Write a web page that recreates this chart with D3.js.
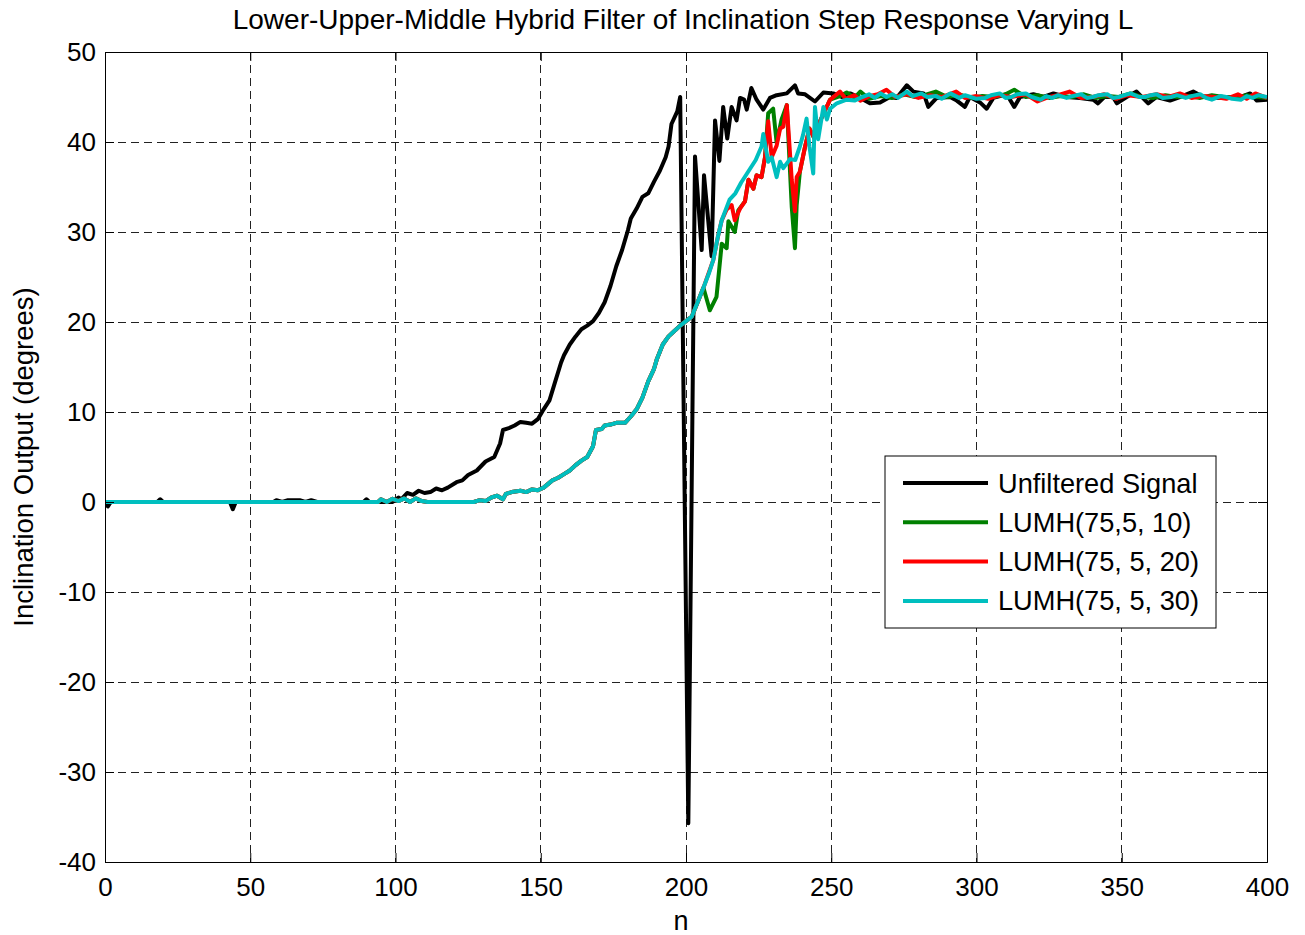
<!DOCTYPE html>
<html lang="en">
<head>
  <meta charset="UTF-8">
  <script src="https://d3js.org/d3.v7.min.js"></script>
  <title>LUMH step response</title>
  <style>
  body {
    margin:0;
    background-color:#fff;
    font-family: "Liberation Sans", Arial, sans-serif;
  }
  .tick text {
    font-family: "Liberation Sans", Arial, sans-serif;
    font-size: 26px;
    fill:#000;
  }
  .grid line {
    stroke:#222;
    stroke-width:1px;
    stroke-dasharray: 8,5;
    shape-rendering: crispEdges;
  }
  .series {
    fill:none;
    stroke-width:4px;
    stroke-linejoin:round;
  }
  </style>
</head>
<body>
<svg id="chart" width="1305" height="935"></svg>
<script>
// n ticks / value ticks
const xTicks = [0, 50, 100, 150, 200, 250, 300, 350, 400];
const yTicks = [-40, -30, -20, -10, 0, 10, 20, 30, 40, 50];

const seriesNames = ["Unfiltered Signal", "LUMH(75,5, 10)", "LUMH(75, 5, 20)", "LUMH(75, 5, 30)"];
const seriesColors = ["#000000", "#008000", "#ff0000", "#00bfbf"];

// unfiltered signal [n, degrees]
const unfiltered = [
  [0,0],[1,-0.5],[2,0],[18,0],[19,0.3],[20,0],[43,0],[44,-0.8],[45,0],[58,0],[59,0.2],[61,0],[63,0.2],[67,0.2],
  [69,0],[71,0.2],[73,0],[89,0],[90,0.3],[91,0],[99,0],[101,0.5],[102,0.3],[104,1.0],[106,0.8],[108,1.25],
  [110,1.0],[112,1.1],[114,1.5],[116,1.3],[118,1.6],[121,2.2],[123,2.4],[125,3.0],[128,3.5],[131,4.5],[134,5.0],
  [136,6.5],[137,8.0],[139,8.2],[141,8.5],[143,8.9],[145,8.8],[147,8.7],[149,9.2],[151,10.3],[153,11.3],
  [155,13.4],[157,15.5],[158,16.3],[160,17.5],[162,18.4],[164,19.2],[166,19.6],[168,20.1],[170,21.0],
  [172,22.2],[174,24.0],[176,26.2],[178,28.0],[180,30.2],[181,31.5],[183,32.6],[185,33.9],[187,34.3],
  [189,35.6],[191,36.8],[193,38.3],[194,39.5],[195,42.0],[197,43.4],[198,45.0],[200.8,-35.7],[203.1,38.4],
  [205.4,28.0],[206.2,36.3],[208.8,27.3],[210,42.4],[211.5,37.9],[212.8,43.9],[214.2,40.4],[215.7,43.9],
  [217.4,42.4],[218.6,44.9],[220,44.7],[220.9,43.6],[222.5,46.0],[224.3,44.7],[226.6,43.6],[228.9,44.9],
  [231.2,45.2],[234.7,45.4],[237.5,46.3],[238.6,45.4],[241,45.3],[244.4,44.5],[247.3,45.5],[250.7,45.4],
  [253.6,45],[256.5,45.4],[260,44.9],[263.3,44.3],[266.8,44.4],[270.2,45],[272.5,44.9],[276,46.3],[278.3,45.6],
  [281.8,45.4],[283.4,43.9],[286.3,44.9],[290.9,45],[293.2,44.6],[296,43.9],[297.7,45],[301.2,44.4],[303.5,43.7],
  [305.8,44.9],[310.4,45.3],[313,43.9],[315,45],[319.6,45.3],[323,45],[326.5,45.4],[331,45],[335.6,44.9],
  [340.2,44.7],[341.8,44.3],[344,45],[347,45],[348.3,44.3],[351.7,45],[355.1,45.6],[359.1,44.3],[362,45],
  [366.6,44.6],[370,45],[374.6,45.6],[378.1,45],[382.7,44.9],[386.2,45],[390,44.9],[394.2,45.4],[396.5,44.6],[400,44.7]
];

// filtered outputs, identical until the response splits
const filteredStart = [
  [0,0],[94,0],[95,0.3],[97,0],[99,0.35],[101,0.1],[103,0.4],[105,0],[107,0.4],[109,0.1],[111,0],[127,0],
  [129,0.2],[131,0.1],[133,0.5],[135,0.7],[137,0.3],[138,0.9],[140,1.1],[143,1.25],[145,1.1],[147,1.4],
  [149,1.3],[151,1.6],[154,2.4],[156,2.7],[158,3.1],[160,3.5],[162,4.1],[164,4.6],[166,5.0],[168,6.2],
  [169,8.0],[171,8.1],[172,8.5],[174,8.6],[176,8.8],[179,8.8],[181,9.5],[183,10.3],[185,11.6],[187,13.4],
  [189,14.8],[190,15.9],[192,17.5],[194,18.4],[196,19.0],[198,19.6],[200,20.1],[202,20.6],[204,22.2],[206,23.8]
];

const lumh10Tail = [
  [208.2,21.3],[210.5,22.8],[212.3,28.7],[214,28.2],[214.6,31.2],[216.8,30.0],[218,32.4],[220.3,33.4],
  [221.5,35.8],[223.2,34.8],[224.3,36.3],[226,36.1],[227.2,38.3],[228.3,43.2],[230,43.7],[231.2,39.9],
  [232.9,42.5],[234.7,44.1],[236.4,32.8],[237.5,28.2],[238.1,33.0],[239.2,36.7],[241,39.5],[242.5,41.5],
  [244,40.5],[246.4,42.5],[249.6,44.7],[253,45.1],[255.3,45.5],[258,44.9],[260,45.6],[263,44.8],[267,45.1],
  [271,44.9],[275,45.3],[279,45.0],[282,45.2],[286,45.6],[290,45.0],[294,45.3],[298,44.9],[302,45.1],
  [306,45.0],[310,45.3],[313,45.8],[317,45.0],[321,45.2],[325,44.9],[329,45.1],[333,45.0],[337,45.3],
  [341,44.9],[345,45.1],[349,45.0],[353,45.4],[357,45.0],[361,44.9],[365,45.2],[369,45.0],[373,45.1],
  [377,44.9],[381,45.2],[385,45.0],[389,44.9],[393,45.2],[397,45.0],[400,44.9]
];

const lumh20Tail = [
  [209.4,26.9],[211,29.5],[212.3,31.3],[214,32.5],[215.7,33.0],[216.8,31.3],[218.6,32.6],[220.3,33.4],
  [221.5,35.8],[223.2,34.8],[224.3,36.3],[226,36.1],[227.2,38.3],[228.3,42.3],[229.5,38.3],[231.2,39.6],
  [232.4,41.5],[233.5,41.7],[234.7,44.1],[236.4,35.8],[237.5,32.3],[238.1,36.1],[239.2,36.7],[241,39.5],
  [242.5,41.5],[244,40.5],[246.4,42.5],[249.6,44.7],[253,45.6],[255,44.8],[258,45.2],[260,44.6],[263,45.1],
  [266,45.3],[269,45.8],[272,45.0],[276,45.3],[280,44.9],[284,45.2],[288,45.0],[293,45.6],[296,44.9],
  [300,45.1],[304,44.8],[308,45.2],[312,45.0],[317,45.3],[321,44.5],[325,45.0],[328,45.2],[332,45.6],
  [336,44.9],[340,45.0],[344,45.3],[348,44.8],[352,45.2],[357,45.0],[362,45.3],[366,45.0],[370,45.4],
  [374,44.9],[378,45.1],[382,45.0],[386,44.8],[390,45.3],[393,44.8],[396,45.4],[400,44.9]
];

const lumh30Tail = [
  [208,25.5],[209.4,26.9],[211,29.5],[212.3,31.3],[215,33.6],[217,34.3],[219,35.5],[221,36.5],[224,38.0],
  [226,39.5],[226.6,40.9],[228.3,37.8],[229.5,38.3],[231.2,36.1],[232.4,37.8],[233.5,37.1],[235.8,38.1],
  [237.6,38.0],[239.2,39.5],[240.3,40.8],[241.5,42.6],[242.5,39.5],[243.8,36.5],[244.4,43.9],[245.5,40.3],
  [247.3,43.9],[248.5,42.5],[249.6,43.7],[251.9,44.3],[255.3,44.7],[258,44.6],[260,44.9],[263,45.3],
  [265,44.9],[267,45.4],[269,45.0],[271,45.3],[273,44.9],[276,45.6],[278,45.1],[281,45.4],[283,45.0],
  [286,45.1],[288,44.8],[291,45.4],[294,44.9],[296,45.2],[298,45],[300,44.8],[303,44.9],[305,45.2],
  [308,45.4],[310,44.9],[312,45],[314,45.3],[317,45.4],[319,45.0],[322,44.7],[324,45.1],[326,44.9],
  [328,45.2],[331,44.9],[333,45.1],[336,45.3],[338,44.9],[340,45],[342,45.2],[345,45.3],[347,44.9],
  [349,45],[351,45.2],[353,45.4],[356,45.0],[358,45],[360,45.2],[362,45.3],[364,44.9],[367,45],[369,45.2],
  [372,44.9],[374,45.1],[377,45.3],[379,44.9],[381,44.7],[384,45.1],[386,45],[388,44.8],[391,44.7],
  [393,45.1],[395,44.9],[397,45.2],[400,45]
];

let svg = d3.select("#chart");
let margin = { top: 52, right: 38, bottom: 73, left: 105 };
let plotWidth = 1305 - margin.left - margin.right;
let plotHeight = 935 - margin.top - margin.bottom;

let x = d3.scaleLinear().domain([0, 400]).range([margin.left, margin.left + plotWidth]);
let y = d3.scaleLinear().domain([-40, 50]).range([margin.top + plotHeight, margin.top]);

// plain hyphen minus like matlab
let fmt = d => String(d);

// grid
let grid = svg.append("g").attr("class", "grid");
grid.selectAll(".vg").data(xTicks.slice(1, -1)).enter()
  .append("line")
  .attr("x1", d => x(d)).attr("x2", d => x(d))
  .attr("y1", y(50)).attr("y2", y(-40));
grid.selectAll(".hg").data(yTicks.slice(1, -1)).enter()
  .append("line")
  .attr("y1", d => y(d)).attr("y2", d => y(d))
  .attr("x1", x(0)).attr("x2", x(400));

// series
svg.append("clipPath").attr("id", "clip")
  .append("rect")
  .attr("x", margin.left).attr("y", margin.top)
  .attr("width", plotWidth).attr("height", plotHeight);

let line = d3.line().x(d => x(d[0])).y(d => y(d[1]));
let allSeries = [
  unfiltered,
  filteredStart.concat(lumh10Tail),
  filteredStart.concat(lumh20Tail),
  filteredStart.concat(lumh30Tail)
];

svg.append("g").attr("clip-path", "url(#clip)")
  .selectAll("path").data(allSeries).enter()
  .append("path")
  .attr("class", "series")
  .attr("stroke", (d, i) => seriesColors[i])
  .attr("d", line);

// axes (MATLAB style, ticks inside)
svg.append("g")
  .attr("transform", "translate(0," + y(-40) + ")")
  .call(d3.axisBottom(x).tickValues(xTicks).tickSize(-9).tickPadding(16).tickFormat(fmt));
svg.append("g")
  .attr("transform", "translate(0," + y(50) + ")")
  .call(d3.axisTop(x).tickValues(xTicks).tickSize(-9).tickFormat(""));
svg.append("g")
  .attr("transform", "translate(" + x(0) + ",0)")
  .call(d3.axisLeft(y).tickValues(yTicks).tickSize(-9).tickPadding(9).tickFormat(fmt));
svg.append("g")
  .attr("transform", "translate(" + x(400) + ",0)")
  .call(d3.axisRight(y).tickValues(yTicks).tickSize(-9).tickFormat(""));

svg.selectAll(".domain").attr("stroke", "#000");
svg.selectAll(".tick line").attr("stroke", "#000");

// title & labels
svg.append("text")
  .attr("x", 683).attr("y", 29)
  .attr("text-anchor", "middle")
  .style("font-size", "28px")
  .text("Lower-Upper-Middle Hybrid Filter of Inclination Step Response Varying L");

svg.append("text")
  .attr("x", 681).attr("y", 930)
  .attr("text-anchor", "middle")
  .style("font-size", "27px")
  .text("n");

svg.append("text")
  .attr("transform", "translate(33," + y(5) + ") rotate(-90)")
  .attr("text-anchor", "middle")
  .style("font-size", "27.5px")
  .text("Inclination Output (degrees)");

// legend
let legend = svg.append("g").attr("transform", "translate(885,456)");
legend.append("rect")
  .attr("width", 331).attr("height", 172)
  .attr("fill", "#fff").attr("stroke", "#000").attr("stroke-width", 1);

let entry = legend.selectAll(".entry").data(seriesNames).enter()
  .append("g")
  .attr("transform", (d, i) => "translate(0," + (27 + i * 39.3) + ")");
entry.append("line")
  .attr("x1", 18).attr("x2", 103)
  .attr("stroke", (d, i) => seriesColors[i])
  .attr("stroke-width", 4);
entry.append("text")
  .attr("x", 113).attr("dy", "0.35em")
  .style("font-size", "27.2px")
  .text(d => d);
</script>
</body>
</html>
